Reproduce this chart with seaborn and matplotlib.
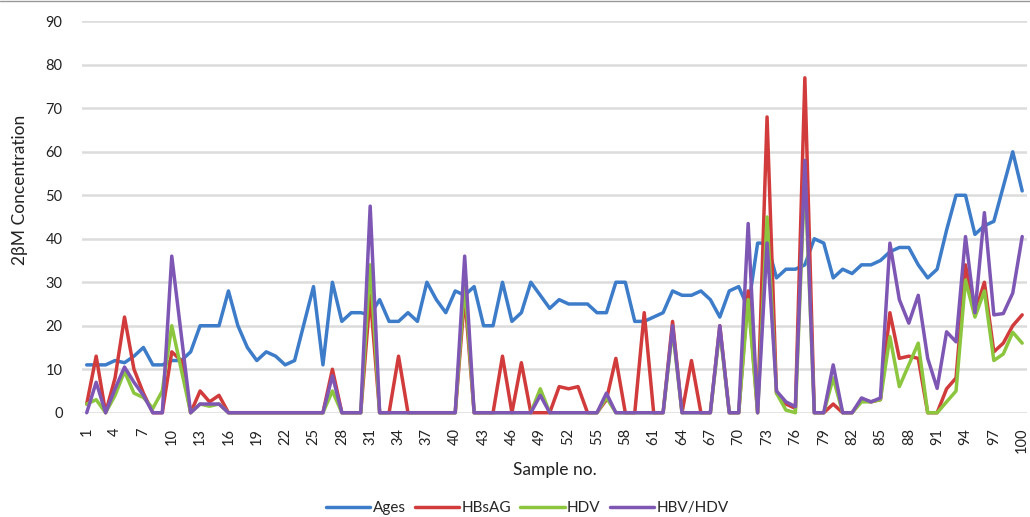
"""2bM concentration by sample number"""
import matplotlib
matplotlib.use("Agg")
import matplotlib.pyplot as plt
from matplotlib.lines import Line2D
import seaborn as sns

samples = list(range(1, 101))

ages = [
    11, 11, 11, 12, 11.5, 13, 15, 11, 11, 12,
    12, 14, 20, 20, 20, 28, 20, 15, 12, 14,
    13, 11, 12, 20.5, 29, 11, 30, 21, 23, 23,
    22.5, 26, 21, 21, 23, 21, 30, 26, 23, 28,
    27, 29, 20, 20, 30, 21, 23, 30, 27, 24,
    26, 25, 25, 25, 23, 23, 30, 30, 21, 21,
    22, 23, 28, 27, 27, 28, 26, 22, 28, 29,
    24, 39, 39, 31, 33, 33, 34, 40, 39, 31,
    33, 32, 34, 34, 35, 37, 38, 38, 34, 31,
    33, 42, 50, 50, 41, 43, 44, 52, 60, 51,
]

hbsag = [
    2, 13, 0, 8, 22, 10, 4.5, 0, 0, 14,
    12, 0, 5, 2.5, 4, 0, 0, 0, 0, 0,
    0, 0, 0, 0, 0, 0, 10, 0, 0, 0,
    27, 0, 0, 13, 0, 0, 0, 0, 0, 0,
    27, 0, 0, 0, 13, 0, 11.5, 0, 0, 0,
    6, 5.5, 6, 0, 0, 3, 12.5, 0, 0, 23,
    0, 0, 21, 0, 12, 0, 0, 20, 0, 0,
    28, 0, 68, 4.5, 2, 1, 77, 0, 0, 2,
    0, 0, 3, 2.5, 3, 23, 12.5, 13, 12.5, 0,
    0, 5.5, 8, 34, 23, 30, 14, 16, 20, 22.5,
]

hdv = [
    2, 3, 0, 4, 9.5, 4.5, 3.5, 1, 5, 20,
    10, 0, 2, 1.5, 2, 0, 0, 0, 0, 0,
    0, 0, 0, 0, 0, 0, 5, 0, 0, 0,
    34, 0, 0, 0, 0, 0, 0, 0, 0, 0,
    30, 0, 0, 0, 0, 0, 0, 0, 5.5, 0,
    0, 0, 0, 0, 0, 3.5, 0, 0, 0, 0,
    0, 0, 19, 0, 0, 0, 0, 19, 0, 0,
    26, 0, 45, 4.5, 0.6, 0, 55, 0, 0, 8,
    0, 0, 2.5, 2.5, 3, 17.5, 6, 11, 16, 0,
    0, 2.5, 5, 30.5, 22, 28, 12, 13.5, 18.5, 16,
]

hbv_hdv = [
    0, 7, 0, 5.5, 10.5, 7, 4, 0, 0, 36,
    18, 0, 2, 2, 2, 0, 0, 0, 0, 0,
    0, 0, 0, 0, 0, 0, 8.5, 0, 0, 0,
    47.5, 0, 0, 0, 0, 0, 0, 0, 0, 0,
    36, 0, 0, 0, 0, 0, 0, 0, 4, 0,
    0, 0, 0, 0, 0, 4.5, 0, 0, 0, 0,
    0, 0, 20, 0, 0, 0, 0, 20, 0, 0,
    43.5, 0, 39, 5, 2.5, 1.4, 58, 0, 0, 11,
    0, 0, 3.4, 2.5, 3.4, 39, 26, 20.6, 27, 12.5,
    5.6, 18.6, 16.3, 40.5, 23, 46, 22.5, 22.8, 27.5, 40.5,
]

series = {
    "Ages": (ages, "#3d7cc9"),
    "HBsAG": (hbsag, "#d13b3b"),
    "HDV": (hdv, "#8cc63e"),
    "HBV/HDV": (hbv_hdv, "#7e57b5"),
}

sns.set_style("white")
plt.rcParams["font.family"] = ["Lato", "DejaVu Sans"]

fig = plt.figure(figsize=(10.3, 5.17), dpi=100)
ax = fig.add_axes([0.0796, 0.2017, 0.9174, 0.7571])

for name, (vals, color) in series.items():
    sns.lineplot(x=samples, y=vals, color=color, linewidth=2.5, label=name,
                 ax=ax, clip_on=False)

ax.set_xlim(0.5, 100.5)
ax.set_ylim(0, 90)
ax.set_yticks(range(0, 91, 10))
ax.set_xticks(samples[::3])
ax.set_xticklabels([str(s) for s in samples[::3]], rotation=90, fontsize=10.5,
                   color="#222222")
for lbl in ax.get_yticklabels():
    lbl.set_fontsize(10.5)
    lbl.set_color("#222222")
ax.tick_params(axis="both", length=0)
ax.tick_params(axis="y", pad=14)
ax.tick_params(axis="x", pad=11)
ax.yaxis.grid(True, color="#dcdcdc", linewidth=1.8)
ax.set_axisbelow(True)
for sp in ax.spines.values():
    sp.set_visible(False)

ax.set_xlabel("Sample no.", fontsize=12.5, color="#222222")
ax.xaxis.set_label_coords(0.5, -0.126)
ax.set_ylabel("2βM Concentration", fontsize=12.5, color="#222222")
ax.yaxis.set_label_coords(-0.066, 0.569)
ax.yaxis.label.set_va("center")

handles, labels = ax.get_legend_handles_labels()
ax.get_legend().remove()
fig.legend(handles, labels, loc="center", bbox_to_anchor=(0.512, 0.017), ncol=4,
           frameon=False, fontsize=11, handlelength=2.9, handletextpad=0.15,
           columnspacing=0.6, borderaxespad=0)

fig.add_artist(Line2D([0, 1], [0.998, 0.998], color="#999999", linewidth=1))

fig.savefig("out.png", dpi=100)
